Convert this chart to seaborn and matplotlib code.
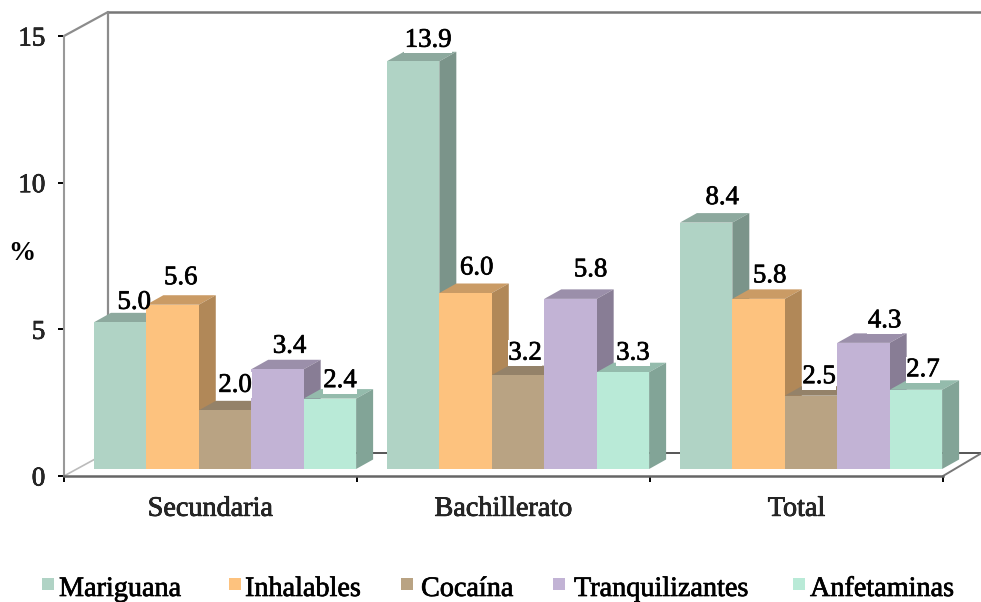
import pandas as pd
import seaborn as sns
import matplotlib.pyplot as plt
import matplotlib.colors as mcolors
import matplotlib.patheffects as pe
from matplotlib.patches import Polygon, Rectangle

niveles = ["Secundaria", "Bachillerato", "Total"]
drogas = ["Mariguana", "Inhalables", "Cocaína", "Tranquilizantes", "Anfetaminas"]

mariguana = [5.0, 13.9, 8.4]
inhalables = [5.6, 6.0, 5.8]
cocaina = [2.0, 3.2, 2.5]
tranquilizantes = [3.4, 5.8, 4.3]
anfetaminas = [2.4, 3.3, 2.7]

y_ticks = [0, 5, 10, 15]

colores = ["#B0D3C5", "#FDC27E", "#B9A383", "#C2B3D5", "#B9EAD7"]

# label shift from the bar's top centre, in pixels (x, y up), per droga and nivel
label_shift = [
	[(14, 20), (15, 21), (16, 25)],
	[(8, 27), (11, 25), (11, 23)],
	[(10, 25), (7, 22), (8, 19)],
	[(12, 23), (20, 29), (21, 22)],
	[(10, 18), (10, 19), (7, 20)],
]

# legend positions in pixels: square left edge, text left edge
legend_square_x = [42, 229, 401, 553, 793]
legend_text_x = [59, 245, 421, 574, 810]

W, H = 981, 602
FONT = "Liberation Serif"
HEAVY = [pe.withStroke(linewidth=0.5, foreground="black")]

sns.set_theme(style="white")
plt.rcParams["font.family"] = [FONT, "DejaVu Serif"]
plt.rcParams["text.color"] = "black"


def darken(color, factor):
	r, g, b = mcolors.to_rgb(color)
	return (r * factor, g * factor, b * factor)


df = pd.DataFrame({
	"nivel": niveles * 5,
	"droga": [d for d in drogas for _ in niveles],
	"pct": mariguana + inhalables + cocaina + tranquilizantes + anfetaminas,
})

fig = plt.figure(figsize=(W / 100, H / 100), dpi=100, facecolor="white")

# axis box in pixels: x 64-943, y 476-36
ax = fig.add_axes([64 / W, (H - 476) / H, 879 / W, 440 / H])
# bars sit a little behind the front edge of the floor
ax_bars = fig.add_axes([78.5 / W, (H - 469) / H, 879 / W, 440 / H], zorder=5)
ax_bars.patch.set_visible(False)

sns.barplot(data=df, x="nivel", y="pct", hue="droga", order=niveles, hue_order=drogas,
	palette=colores, saturation=1, width=0.895, gap=0, legend=False, ax=ax_bars)

ax_bars.set_xlim(-0.5, 2.5)
ax_bars.set_ylim(0, 15)
ax_bars.axis("off")

# depth of the bars, in data units
bar_dx = 17 / 293
bar_dy = 9.5 / 29.33

rects = []
for i, container in enumerate(ax_bars.containers):
	for j, rect in enumerate(container):
		rects.append((rect.get_x(), rect, colores[i], label_shift[i][j], (i, j) != (0, 0)))
rects.sort(key=lambda r: r[0])

for n, (x0, rect, color, shift, boxed) in enumerate(rects):
	w = rect.get_width()
	h = rect.get_height()
	rect.set_zorder(3 + n + 0.5)
	rect.set_linewidth(0)
	top = Polygon([(x0, h), (x0 + w, h), (x0 + w + bar_dx, h + bar_dy), (x0 + bar_dx, h + bar_dy)],
		closed=True, facecolor=darken(color, 0.8), edgecolor="none", clip_on=False, zorder=3 + n)
	side = Polygon([(x0 + w, 0), (x0 + w + bar_dx, bar_dy), (x0 + w + bar_dx, h + bar_dy), (x0 + w, h)],
		closed=True, facecolor=darken(color, 0.7), edgecolor="none", clip_on=False, zorder=3 + n)
	ax_bars.add_patch(top)
	ax_bars.add_patch(side)
	# the 5.0 label touches its own bar top, a white box would bite into it
	box = dict(facecolor="white", edgecolor="none", pad=0.3) if boxed else None
	ax_bars.annotate("{:.1f}".format(h), (x0 + w / 2, h), xytext=shift, textcoords="offset pixels",
		ha="center", va="center", fontsize=19.3, color="black", zorder=100, annotation_clip=False,
		path_effects=HEAVY, bbox=box)

# walls and floor of the chart box
wall_dx = 44 / 293
wall_dy = 24 / 29.33
right_end = (W - 64) / 293 - 0.5
line_kw = dict(color="#8c8c8c", linewidth=1.6, clip_on=False, zorder=1)
ax.plot([-0.5, -0.5 + wall_dx], [15, 15 + wall_dy], **line_kw)
ax.plot([-0.5 + wall_dx, right_end], [15 + wall_dy, 15 + wall_dy], color="#777777", linewidth=1.8, clip_on=False, zorder=1)
ax.plot([-0.5 + wall_dx, -0.5 + wall_dx], [wall_dy, 15 + wall_dy], **line_kw)
ax.plot([-0.5, -0.5 + wall_dx], [0, wall_dy], color="#bbbbbb", linewidth=1.2, clip_on=False, zorder=1)
ax.plot([-0.5 + wall_dx, right_end], [wall_dy - 0.05, wall_dy - 0.05], color="#555555", linewidth=1.4, clip_on=False, zorder=1)
ax.plot([2.5, right_end], [0, wall_dy - 0.05], color="#777777", linewidth=1.4, clip_on=False, zorder=1)

ax.set_xlim(-0.5, 2.5)
ax.set_ylim(0, 15)
ax.patch.set_visible(False)
ax.set_xlabel("")
ax.set_ylabel("")

ax.spines["top"].set_visible(False)
ax.spines["right"].set_visible(False)
ax.spines["left"].set_color("#999999")
ax.spines["left"].set_linewidth(1.5)
ax.spines["bottom"].set_color("#666666")
ax.spines["bottom"].set_linewidth(1.8)

ax.set_yticks(y_ticks)
ax.set_yticklabels([str(t) for t in y_ticks], fontsize=19.5, path_effects=HEAVY)
ax.tick_params(axis="y", left=True, length=4.5, width=1.4, color="black", pad=9)

ax.set_xticks(range(len(niveles)))
ax.set_xticklabels(niveles, fontsize=20.3, path_effects=HEAVY)
ax.tick_params(axis="x", which="major", bottom=False, length=0, pad=15)
ax.set_xticks([-0.5, 0.5, 1.5, 2.5], minor=True)
ax.tick_params(axis="x", which="minor", bottom=True, length=4, width=1.4, color="black")

fig.text(22 / W, 1 - 254 / H, "%", fontsize=19.5, ha="center", va="center", fontweight="bold")

# legend row, gaps in the original are uneven so each entry is placed by hand
for color, label, sx, tx in zip(colores, drogas, legend_square_x, legend_text_x):
	fig.add_artist(Rectangle((sx / W, 1 - 590 / H), 12 / W, 12 / H, transform=fig.transFigure,
		facecolor=color, edgecolor="none"))
	fig.text(tx / W, 1 - 596 / H, label, fontsize=20.3, ha="left", va="baseline", path_effects=HEAVY)

plt.savefig("out.png", dpi=100)
